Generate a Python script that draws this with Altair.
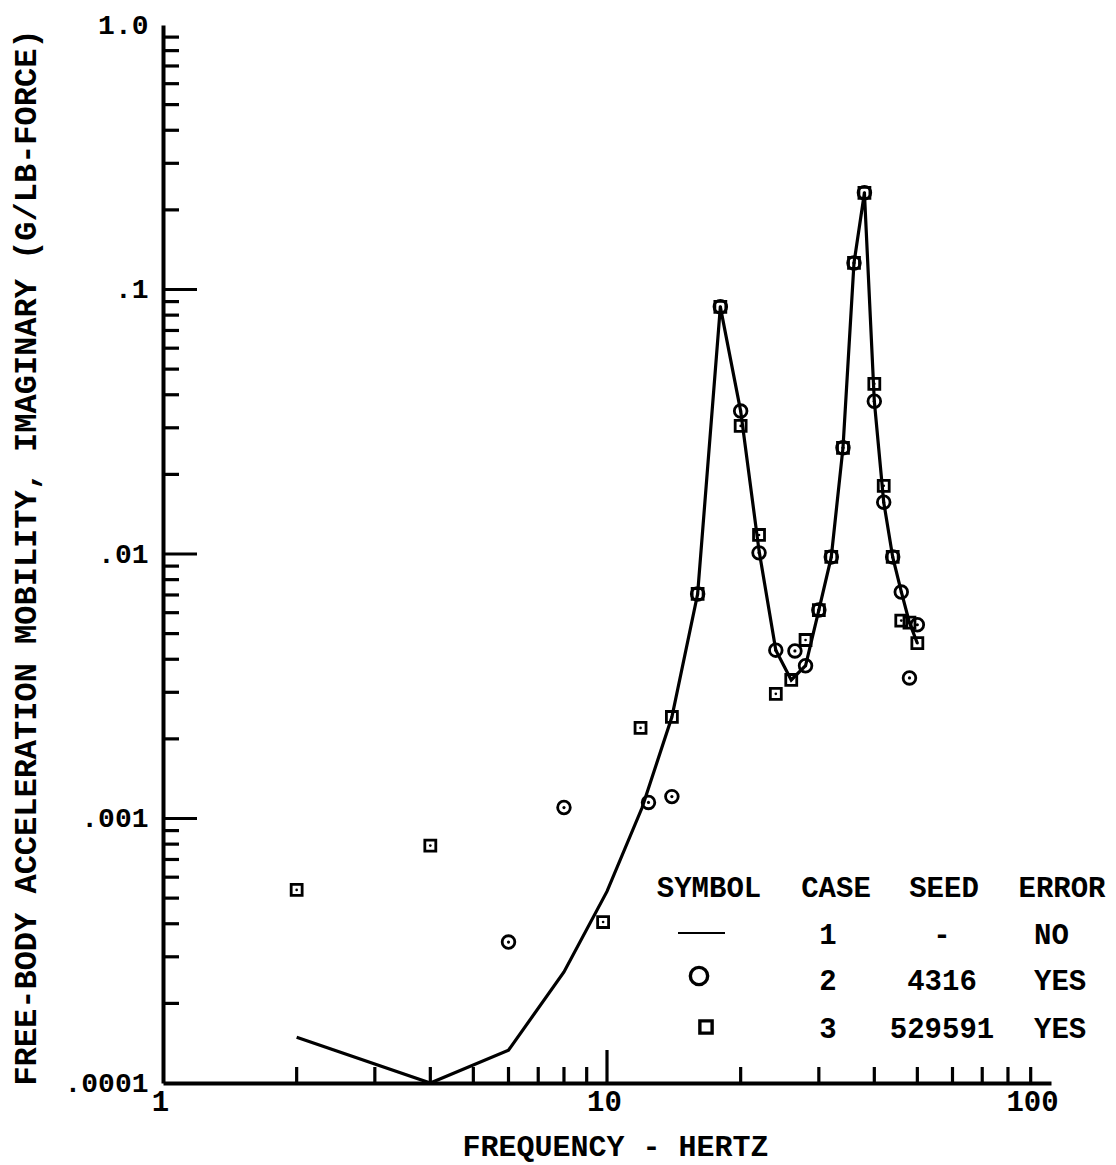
import math
import altair as alt
import pandas as pd

# ---------------- data ----------------
# Case 1 (solid line, no error)
line_freq = [2, 4, 6, 8, 10, 12, 14, 16, 18, 20, 22, 24, 26, 28, 30, 32, 34, 36, 38, 40, 42, 44, 46, 48, 50]
line_val = [1.49e-4, 1.0e-4, 1.33e-4, 2.63e-4, 5.3e-4, 1.1e-3, 2.42e-3, 7.06e-3, 0.086, 0.0347, 0.0103,
            0.00433, 0.00334, 0.00378, 0.00614, 0.00975, 0.0252, 0.126, 0.232, 0.0378, 0.0157, 0.00975,
            0.0072, 0.0055, 0.0046]

# Case 2 (circles, seed 4316)
c2_freq = [6, 8, 12.4, 14, 16, 18, 20, 22, 24, 26.5, 28, 30, 32, 34, 36, 38, 40, 42, 44, 46, 48, 50]
c2_val = [3.41e-4, 1.10e-3, 1.15e-3, 1.21e-3, 7.06e-3, 0.086, 0.0347, 0.0101, 0.00433, 0.0043, 0.00378,
          0.00614, 0.00975, 0.0252, 0.126, 0.232, 0.0378, 0.0157, 0.00975, 0.00718, 0.0034, 0.0054]

# Case 3 (squares, seed 529591)
c3_freq = [2, 4, 9.8, 11.9, 14, 16, 18, 20, 22, 24, 26, 28, 30, 32, 34, 36, 38, 40, 42, 44, 46, 48, 50]
c3_val = [5.37e-4, 7.9e-4, 4.06e-4, 2.2e-3, 2.42e-3, 7.06e-3, 0.086, 0.0305, 0.0118, 0.00296, 0.00334,
          0.00473, 0.00614, 0.00975, 0.0252, 0.126, 0.232, 0.044, 0.0181, 0.00975, 0.0056, 0.0055, 0.0046]

x_tick_values = [1, 10, 100]
x_tick_labels = ["1", "10", "100"]
y_tick_values = [0.0001, 0.001, 0.01, 0.1, 1.0]
y_tick_labels = [".0001", ".001", ".01", ".1", "1.0"]

x_minor = [m * 10 ** k for k in (0, 1) for m in range(2, 10)]
x_major = [10]
y_minor = [m * 10.0 ** k for k in (-4, -3, -2, -1) for m in range(2, 10)]
y_major = [0.001, 0.01, 0.1]

legend_header = ["SYMBOL", "CASE", "SEED", "ERROR"]
legend_case = ["1", "2", "3"]
legend_seed = ["-", "4316", "529591"]
legend_error = ["NO", "YES", "YES"]

x_title = "FREQUENCY - HERTZ"
y_title = "FREE-BODY ACCELERATION MOBILITY, IMAGINARY (G/LB-FORCE)"

# ---------------- layout / style ----------------
W, H = 888, 1058
OX, OY = 163, 25  # plot origin on the page
FONT = "Liberation Mono"
FS = 29
TOTAL_H = 1157


def label_expr(values, labels):
    expr = "''"
    for v, lab in reversed(list(zip(values, labels))):
        expr = f"abs(log(datum.value)/LN10 - ({math.log10(v)})) < 0.01 ? '{lab}' : " + expr
    return expr


xs = alt.Scale(type="log", domain=[1, 100], nice=False)
ys = alt.Scale(type="log", domain=[0.0001, 1], nice=False)

xaxis = alt.Axis(
    values=x_tick_values, labelExpr=label_expr(x_tick_values, x_tick_labels),
    ticks=False, tickSize=0, grid=False, domainColor="black", domainWidth=4,
    labelFont=FONT, labelFontWeight="bold", labelFontSize=FS, labelColor="black",
    labelBaseline="middle", labelPadding=18, labelFlush=False, labelOverlap=False,
    labelOffset={"condition": {"test": "datum.value >= 99", "value": -19}, "value": -3},
    title=x_title, titleFont=FONT, titleFontWeight="bold", titleFontSize=30, titleColor="black",
    titleX=452, titleY=63, titleAlign="center", titleBaseline="middle",
)
yaxis = alt.Axis(
    values=y_tick_values, labelExpr=label_expr(y_tick_values, y_tick_labels),
    ticks=False, tickSize=0, grid=False, domainColor="black", domainWidth=4,
    labelFont=FONT, labelFontWeight="bold", labelFontSize=28, labelColor="black",
    labelBaseline="middle", labelAlign="right", labelPadding=15, labelFlush=False, labelOverlap=False,
    title=y_title, titleFont=FONT, titleFontWeight="bold", titleFontSize=32, titleColor="black",
    titleX=-138, titleY=532, titleAngle=270, titleAlign="center", titleBaseline="middle",
)

X = alt.X("f:Q", scale=xs, axis=xaxis)
Y = alt.Y("v:Q", scale=ys, axis=yaxis)

df_line = pd.DataFrame({"f": line_freq, "v": line_val})
df_c2 = pd.DataFrame({"f": c2_freq, "v": c2_val})
df_c3 = pd.DataFrame({"f": c3_freq, "v": c3_val})

line = alt.Chart(df_line).mark_line(color="black", strokeWidth=3.2).encode(x=X, y=Y)
circles = alt.Chart(df_c2).mark_point(shape="circle", filled=False, color="black", size=160,
                                      strokeWidth=2.8, opacity=1).encode(x=X, y=Y)
squares = alt.Chart(df_c3).mark_point(shape="square", filled=False, color="black", size=120,
                                      strokeWidth=2.8, opacity=1).encode(x=X, y=Y)
dots2 = alt.Chart(df_c2).mark_point(shape="circle", filled=True, color="black", size=10, opacity=1).encode(x=X, y=Y)
dots3 = alt.Chart(df_c3).mark_point(shape="circle", filled=True, color="black", size=7, opacity=1).encode(x=X, y=Y)

# inward ticks drawn as rules on the scales
ytm = alt.Chart(pd.DataFrame({"v": y_minor})).mark_rule(color="black", strokeWidth=3.2).encode(
    y=Y, x=alt.value(0), x2=alt.value(16))
ytM = alt.Chart(pd.DataFrame({"v": y_major})).mark_rule(color="black", strokeWidth=3.2).encode(
    y=Y, x=alt.value(0), x2=alt.value(34))
xtm = alt.Chart(pd.DataFrame({"f": x_minor})).mark_rule(color="black", strokeWidth=3.2).encode(
    x=X, y=alt.value(H), y2=alt.value(H - 16))
xtM = alt.Chart(pd.DataFrame({"f": x_major})).mark_rule(color="black", strokeWidth=3.2).encode(
    x=X, y=alt.value(H), y2=alt.value(H - 33))

layers = [ytm, ytM, xtm, xtM, line, circles, squares, dots2, dots3]


def txt(s, px, py, align="center"):
    return alt.Chart(pd.DataFrame({"t": [s]})).mark_text(
        font=FONT, fontWeight="bold", fontSize=FS, color="black", align=align, baseline="middle"
    ).encode(text="t:N", x=alt.value(px - OX), y=alt.value(py - OY))


# legend table (page coordinates converted to plot coordinates)
col_x = [709, 836, 944, 1062]
row_y = [888, 935, 981, 1029]
for s, cx in zip(legend_header, col_x):
    layers.append(txt(s, cx, row_y[0]))
for i in range(3):
    layers.append(txt(legend_case[i], 828, row_y[i + 1]))
    layers.append(txt(legend_seed[i], 942, row_y[i + 1]))
    layers.append(txt(legend_error[i], 1034, row_y[i + 1], align="left"))

sym_df = pd.DataFrame({"k": [0]})
layers.append(alt.Chart(sym_df).mark_rule(color="black", strokeWidth=2.2).encode(
    x=alt.value(678 - OX), x2=alt.value(725 - OX), y=alt.value(933 - OY)))
layers.append(alt.Chart(sym_df).mark_point(shape="circle", filled=False, color="black", size=300,
                                           strokeWidth=3.4, opacity=1).encode(
    x=alt.value(699 - OX), y=alt.value(976 - OY)))
layers.append(alt.Chart(sym_df).mark_point(shape="square", filled=False, color="black", size=150,
                                           strokeWidth=3.4, opacity=1).encode(
    x=alt.value(706 - OX), y=alt.value(1027 - OY)))

chart = alt.layer(*layers).properties(
    width=W, height=H,
    autosize=alt.AutoSizeParams(type="none"),
    padding={"left": OX - 8, "top": OY - 8, "right": 1100 - (OX - 8) - W, "bottom": TOTAL_H - (OY - 8) - H},
    background="white",
).configure_view(stroke=None)

chart.save("out.html", embed_options={"renderer": "svg", "actions": False})
